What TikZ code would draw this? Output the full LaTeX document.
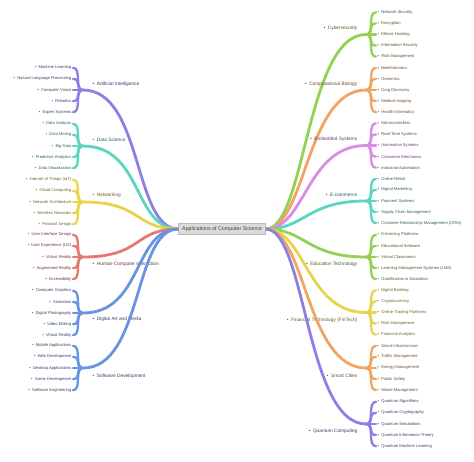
\documentclass[tikz,border=0pt]{standalone}
\usepackage{fontspec}
\setmainfont{Liberation Sans}
\definecolor{cpurple}{HTML}{8C80E2}
\definecolor{cteal}{HTML}{5AD6BE}
\definecolor{cyellow}{HTML}{E8D44C}
\definecolor{cred}{HTML}{E8786F}
\definecolor{cblue}{HTML}{6A94E2}
\definecolor{cgreen}{HTML}{94D052}
\definecolor{corange}{HTML}{F2A463}
\definecolor{cmagenta}{HTML}{D98CE5}

\begin{document}
\begin{tikzpicture}[x=1pt, y=-1pt,
  root/.style={draw=gray!55, fill=gray!28, text=black!75, font=\fontsize{5.3}{6}\selectfont,
    minimum width=87pt, minimum height=11pt, inner sep=1pt},
  topic/.style={text=#1!45!black, font=\fontsize{4.8}{5.5}\selectfont, inner sep=1.5pt},
  leafl/.style={anchor=east, text=#1!45!black, font=\fontsize{4.1}{5}\selectfont, inner sep=1.5pt},
  leafr/.style={anchor=west, text=#1!45!black, font=\fontsize{4.1}{5}\selectfont, inner sep=1.5pt},
  trunk/.style={draw=#1, line width=2.8pt},
  twig/.style={draw=#1, line width=2.3pt, line cap=round}]
\useasboundingbox (0,0) rectangle (474,461);

\node[root] (root) at (222,229) {Applications of Computer Science};

% left side
\coordinate (ai) at (83,90);
\node[topic=cpurple, anchor=west] (ai-t) at (91,84) {\textbullet\hspace{2.5pt}Artificial Intelligence};
\draw[trunk=cpurple] (root.west) .. controls +(-45,0) and +(60,0) .. (ai);
\foreach \t [count=\i] in {Machine Learning, Natural Language Processing, Computer Vision, Robotics, Expert Systems} {
  \node[leafl=cpurple] (ai-\i) at (73,{90+11.1*(\i-3)}) {\textbullet\hspace{2.2pt}\t};
  \draw[twig=cpurple] (ai) .. controls +(-9,0) and +(9,0) .. (ai-\i.east);
}

\coordinate (ds) at (83,146);
\node[topic=cteal, anchor=west] (ds-t) at (91,140) {\textbullet\hspace{2.5pt}Data Science};
\draw[trunk=cteal] (root.west) .. controls +(-45,0) and +(60,0) .. (ds);
\foreach \t [count=\i] in {Data Analysis, Data Mining, Big Data, Predictive Analytics, Data Visualization} {
  \node[leafl=cteal] (ds-\i) at (73,{146+11.1*(\i-3)}) {\textbullet\hspace{2.2pt}\t};
  \draw[twig=cteal] (ds) .. controls +(-9,0) and +(9,0) .. (ds-\i.east);
}

\coordinate (net) at (83,202);
\node[topic=cyellow, anchor=west] (net-t) at (91,195) {\textbullet\hspace{2.5pt}Networking};
\draw[trunk=cyellow] (root.west) .. controls +(-45,0) and +(60,0) .. (net);
\foreach \t [count=\i] in {{Internet of Things (IoT)}, Cloud Computing, Network Architecture, Wireless Networks, Protocol Design} {
  \node[leafl=cyellow] (net-\i) at (73,{202+11.1*(\i-3)}) {\textbullet\hspace{2.2pt}\t};
  \draw[twig=cyellow] (net) .. controls +(-9,0) and +(9,0) .. (net-\i.east);
}

\coordinate (hci) at (83,257);
\node[topic=cred, anchor=west] (hci-t) at (91,264) {\textbullet\hspace{2.5pt}Human-Computer Interaction};
\draw[trunk=cred] (root.west) .. controls +(-45,0) and +(60,0) .. (hci);
\foreach \t [count=\i] in {User Interface Design, {User Experience (UX)}, Virtual Reality, Augmented Reality, Accessibility} {
  \node[leafl=cred] (hci-\i) at (73,{257+11.1*(\i-3)}) {\textbullet\hspace{2.2pt}\t};
  \draw[twig=cred] (hci) .. controls +(-9,0) and +(9,0) .. (hci-\i.east);
}

\coordinate (dam) at (83,313);
\node[topic=cblue, anchor=west] (dam-t) at (91,319) {\textbullet\hspace{2.5pt}Digital Art and Media};
\draw[trunk=cblue] (root.west) .. controls +(-45,0) and +(60,0) .. (dam);
\foreach \t [count=\i] in {Computer Graphics, Animation, Digital Photography, Video Editing, Virtual Reality} {
  \node[leafl=cblue] (dam-\i) at (73,{313+11.1*(\i-3)}) {\textbullet\hspace{2.2pt}\t};
  \draw[twig=cblue] (dam) .. controls +(-9,0) and +(9,0) .. (dam-\i.east);
}

\coordinate (sd) at (83,368);
\node[topic=cblue, anchor=west] (sd-t) at (91,376) {\textbullet\hspace{2.5pt}Software Development};
\draw[trunk=cblue] (root.west) .. controls +(-45,0) and +(60,0) .. (sd);
\foreach \t [count=\i] in {Mobile Applications, Web Development, Desktop Applications, Game Development, Software Engineering} {
  \node[leafl=cblue] (sd-\i) at (73,{368+11.1*(\i-3)}) {\textbullet\hspace{2.2pt}\t};
  \draw[twig=cblue] (sd) .. controls +(-9,0) and +(9,0) .. (sd-\i.east);
}

% right side
\coordinate (cyb) at (366,34.5);
\node[topic=cgreen, anchor=east] (cyb-t) at (359,28) {\textbullet\hspace{2.5pt}Cybersecurity};
\draw[trunk=cgreen] (root.east) .. controls +(40,0) and +(-60,0) .. (cyb);
\foreach \t [count=\i] in {Network Security, Encryption, Ethical Hacking, Information Security, Risk Management} {
  \node[leafr=cgreen] (cyb-\i) at (376,{34.5+11.1*(\i-3)}) {\textbullet\hspace{2.2pt}\t};
  \draw[twig=cgreen] (cyb) .. controls +(9,0) and +(-9,0) .. (cyb-\i.west);
}

\coordinate (bio) at (366,90);
\node[topic=corange, anchor=east] (bio-t) at (359,84) {\textbullet\hspace{2.5pt}Computational Biology};
\draw[trunk=corange] (root.east) .. controls +(40,0) and +(-60,0) .. (bio);
\foreach \t [count=\i] in {Bioinformatics, Genomics, Drug Discovery, Medical Imaging, Health Informatics} {
  \node[leafr=corange] (bio-\i) at (376,{90+11.1*(\i-3)}) {\textbullet\hspace{2.2pt}\t};
  \draw[twig=corange] (bio) .. controls +(9,0) and +(-9,0) .. (bio-\i.west);
}

\coordinate (emb) at (366,145.5);
\node[topic=cmagenta, anchor=east] (emb-t) at (359,139) {\textbullet\hspace{2.5pt}Embedded Systems};
\draw[trunk=cmagenta] (root.east) .. controls +(40,0) and +(-60,0) .. (emb);
\foreach \t [count=\i] in {Microcontrollers, Real-Time Systems, Automotive Systems, Consumer Electronics, Industrial Automation} {
  \node[leafr=cmagenta] (emb-\i) at (376,{145.5+11.1*(\i-3)}) {\textbullet\hspace{2.2pt}\t};
  \draw[twig=cmagenta] (emb) .. controls +(9,0) and +(-9,0) .. (emb-\i.west);
}

\coordinate (ecom) at (366,201);
\node[topic=cteal, anchor=east] (ecom-t) at (359,195) {\textbullet\hspace{2.5pt}E-commerce};
\draw[trunk=cteal] (root.east) .. controls +(40,0) and +(-60,0) .. (ecom);
\foreach \t [count=\i] in {Online Retail, Digital Marketing, Payment Systems, Supply Chain Management, {Customer Relationship Management (CRM)}} {
  \node[leafr=cteal] (ecom-\i) at (376,{201+11.1*(\i-3)}) {\textbullet\hspace{2.2pt}\t};
  \draw[twig=cteal] (ecom) .. controls +(9,0) and +(-9,0) .. (ecom-\i.west);
}

\coordinate (edu) at (366,257);
\node[topic=cgreen, anchor=east] (edu-t) at (359,264) {\textbullet\hspace{2.5pt}Education Technology};
\draw[trunk=cgreen] (root.east) .. controls +(40,0) and +(-60,0) .. (edu);
\foreach \t [count=\i] in {E-learning Platforms, Educational Software, Virtual Classrooms, {Learning Management Systems (LMS)}, Gamification in Education} {
  \node[leafr=cgreen] (edu-\i) at (376,{257+11.1*(\i-3)}) {\textbullet\hspace{2.2pt}\t};
  \draw[twig=cgreen] (edu) .. controls +(9,0) and +(-9,0) .. (edu-\i.west);
}

\coordinate (fin) at (366,312.5);
\node[topic=cyellow, anchor=east] (fin-t) at (359,320) {\textbullet\hspace{2.5pt}Financial Technology (FinTech)};
\draw[trunk=cyellow] (root.east) .. controls +(40,0) and +(-60,0) .. (fin);
\foreach \t [count=\i] in {Digital Banking, Cryptocurrency, Online Trading Platforms, Risk Management, Financial Analytics} {
  \node[leafr=cyellow] (fin-\i) at (376,{312.5+11.1*(\i-3)}) {\textbullet\hspace{2.2pt}\t};
  \draw[twig=cyellow] (fin) .. controls +(9,0) and +(-9,0) .. (fin-\i.west);
}

\coordinate (city) at (366,368);
\node[topic=corange, anchor=east] (city-t) at (359,376) {\textbullet\hspace{2.5pt}Smart Cities};
\draw[trunk=corange] (root.east) .. controls +(40,0) and +(-60,0) .. (city);
\foreach \t [count=\i] in {Smart Infrastructure, Traffic Management, Energy Management, Public Safety, Waste Management} {
  \node[leafr=corange] (city-\i) at (376,{368+11.1*(\i-3)}) {\textbullet\hspace{2.2pt}\t};
  \draw[twig=corange] (city) .. controls +(9,0) and +(-9,0) .. (city-\i.west);
}

\coordinate (qc) at (366,424);
\node[topic=cpurple, anchor=east] (qc-t) at (359,431) {\textbullet\hspace{2.5pt}Quantum Computing};
\draw[trunk=cpurple] (root.east) .. controls +(40,0) and +(-60,0) .. (qc);
\foreach \t [count=\i] in {Quantum Algorithms, Quantum Cryptography, Quantum Simulations, Quantum Information Theory, Quantum Machine Learning} {
  \node[leafr=cpurple] (qc-\i) at (376,{424+11.1*(\i-3)}) {\textbullet\hspace{2.2pt}\t};
  \draw[twig=cpurple] (qc) .. controls +(9,0) and +(-9,0) .. (qc-\i.west);
}
\end{tikzpicture}
\end{document}
